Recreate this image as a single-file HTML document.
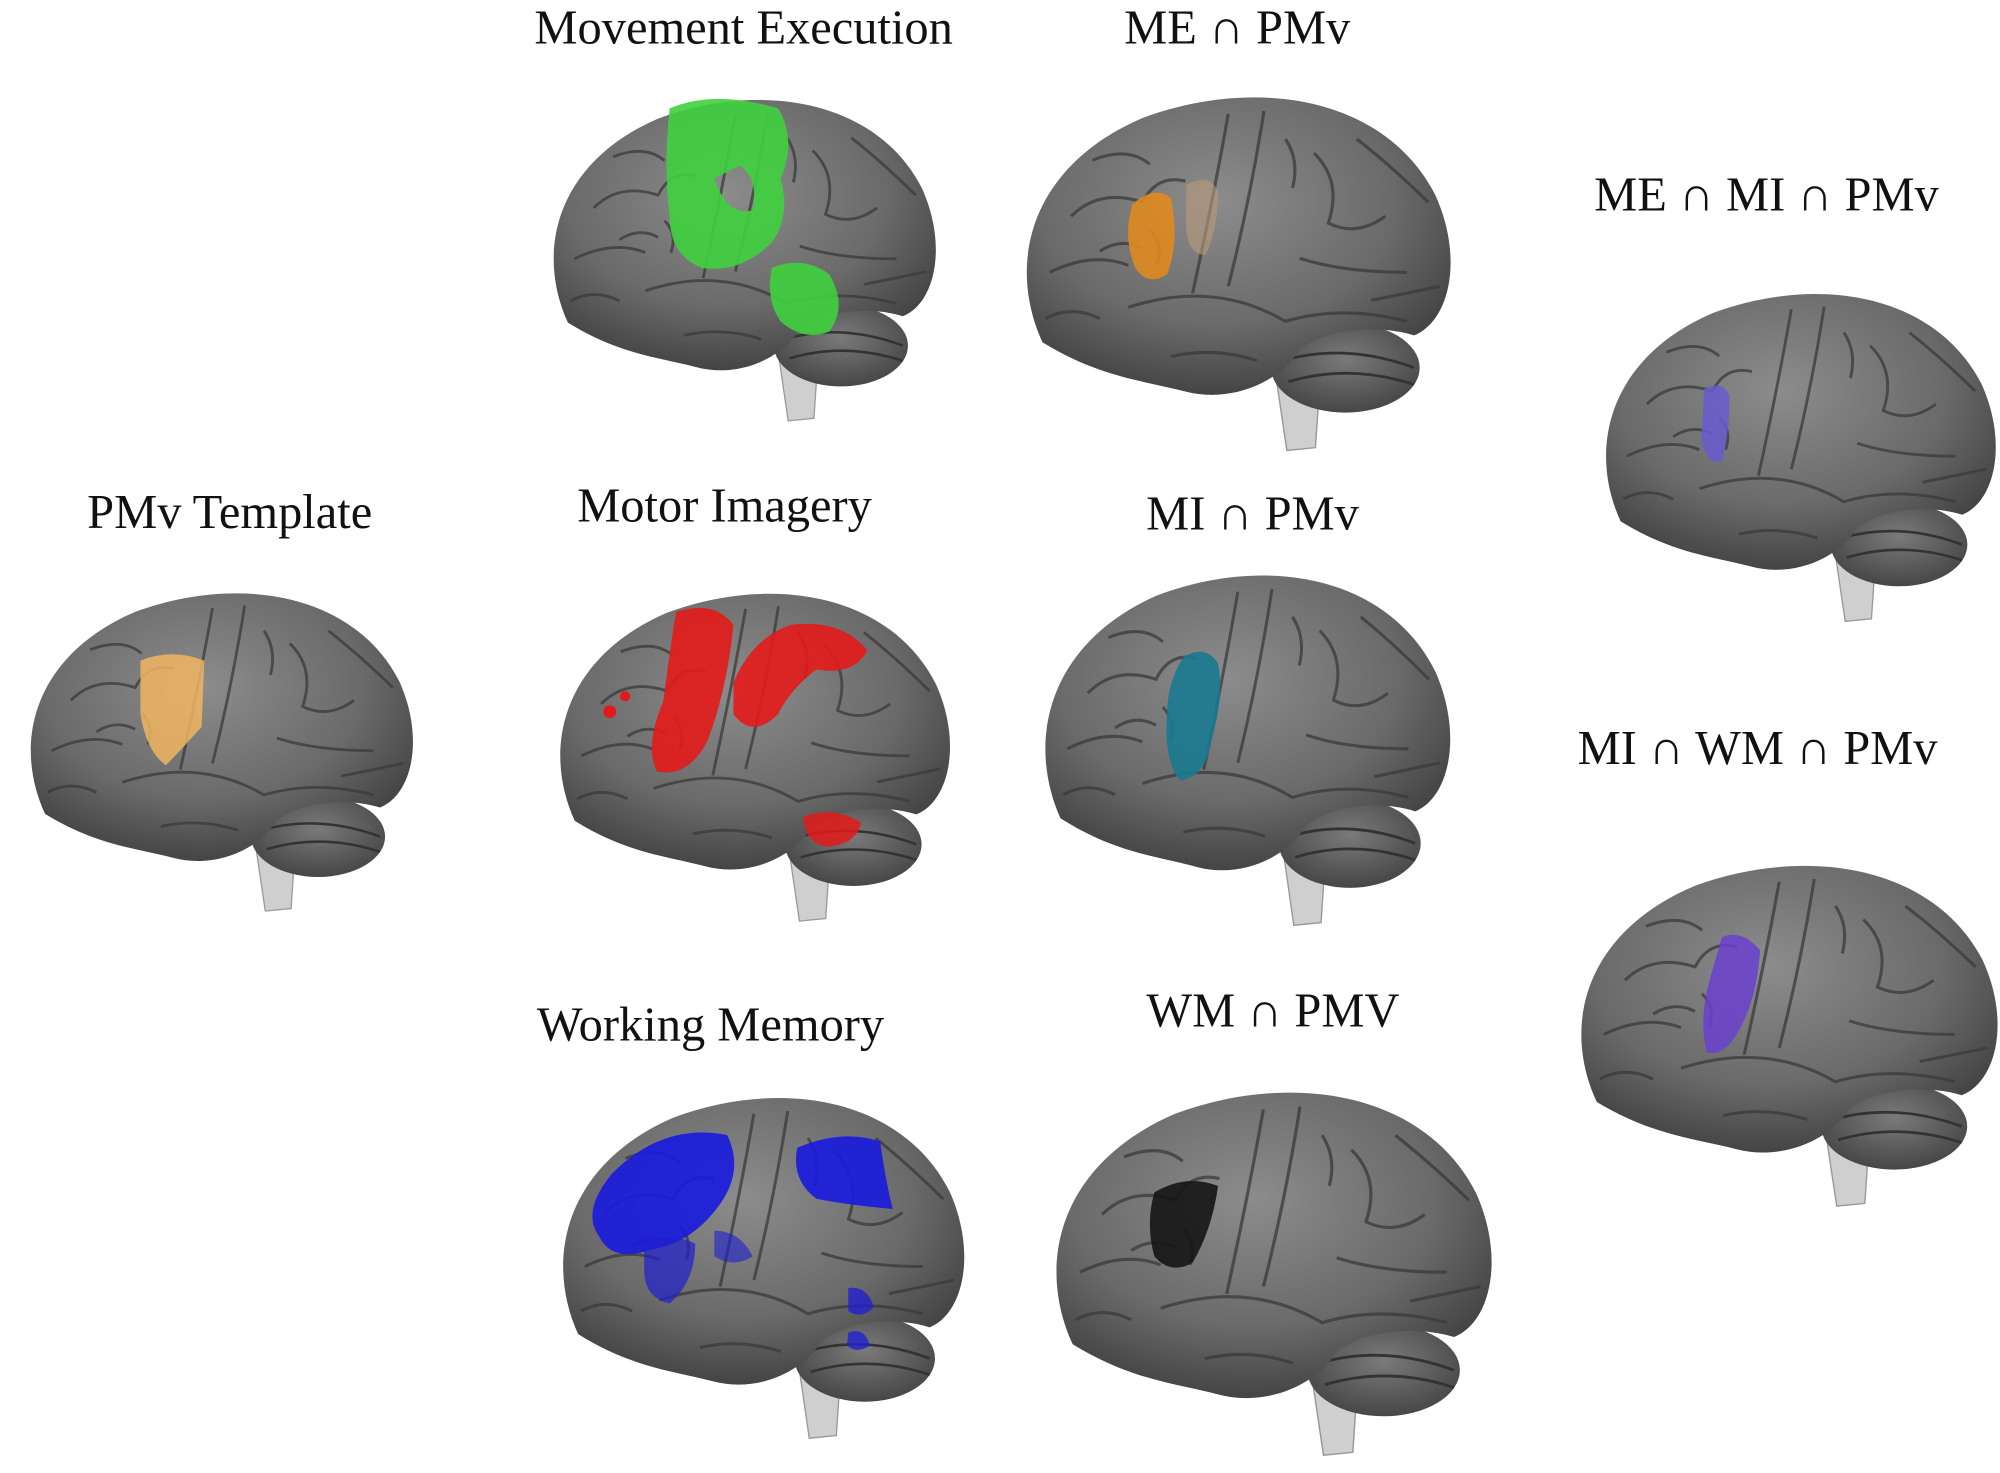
<!DOCTYPE html>
<html><head><meta charset="utf-8"><style>
html,body{margin:0;padding:0;background:#fff;}
svg{display:block;}
text{font-family:"Liberation Serif",serif;font-size:38px;fill:#111;text-anchor:middle;}
</style></head><body>
<svg width="2000" height="1473" viewBox="0 0 1568 1155" xmlns="http://www.w3.org/2000/svg">
<defs>
<radialGradient id="g" cx="0.45" cy="0.35" r="0.7">
<stop offset="0" stop-color="#8c8c8c"/><stop offset="0.6" stop-color="#6a6a6a"/><stop offset="1" stop-color="#3c3c3c"/>
</radialGradient>
<radialGradient id="cb" cx="0.5" cy="0.4" r="0.7">
<stop offset="0" stop-color="#7a7a7a"/><stop offset="1" stop-color="#3e3e3e"/>
</radialGradient>
<g id="brain">
<path d="M182,200 L215,200 L211,260 L191,262 Z" fill="#cfcfcf" stroke="#999" stroke-width="1"/>
<ellipse cx="232" cy="203" rx="52" ry="32" fill="url(#cb)"/>
<path d="M188,198 Q232,185 280,203" stroke="#333" stroke-width="2" fill="none"/>
<path d="M192,213 Q235,200 280,215" stroke="#333" stroke-width="2" fill="none"/>
<path d="M20,185 C-5,130 10,60 90,25 C170,-5 260,10 295,80 C315,125 305,170 280,180 C255,172 220,175 200,190 C185,215 150,228 120,220 C90,212 60,210 20,185 Z" fill="url(#g)"/>
<g stroke="#3a3a3a" stroke-width="2.2" fill="none" opacity="0.75">
<path d="M80,160 Q140,140 190,170 Q230,158 275,170"/>
<path d="M150,22 Q140,80 125,150"/>
<path d="M175,20 Q165,85 150,145"/>
<path d="M40,95 Q60,75 90,85 Q100,65 120,70"/>
<path d="M25,135 Q55,120 80,130"/>
<path d="M210,50 Q230,70 220,100 Q240,110 260,95"/>
<path d="M200,125 Q230,135 275,135"/>
<path d="M55,55 Q80,45 95,58"/>
<path d="M240,40 Q265,60 290,85"/>
<path d="M110,195 Q140,188 170,198"/>
<path d="M22,168 Q40,158 60,168"/>
<path d="M95,105 Q105,115 100,130"/>
<path d="M250,155 Q275,150 298,145"/>
<path d="M190,40 Q200,55 195,75"/>
<path d="M60,120 Q75,110 90,118"/>
</g>
</g>
</defs>

<text x="583" y="34">Movement Execution</text>
<text x="970" y="34">ME ∩ PMv</text>
<text x="1385" y="165">ME ∩ MI ∩ PMv</text>
<text x="180" y="414">PMv Template</text>
<text x="568" y="409">Motor Imagery</text>
<text x="982" y="415">MI ∩ PMv</text>
<text x="1378" y="599">MI ∩ WM ∩ PMv</text>
<text x="557" y="816">Working Memory</text>
<text x="998" y="805">WM ∩ PMV</text>

<use href="#brain" transform="translate(425,68) scale(1.01,1)"/>
<path d="M525,85 Q560,70 610,85 Q625,110 612,140 Q620,170 605,190 Q580,215 550,210 Q525,200 525,170 Q520,130 525,85 Z M560,140 Q570,170 590,165 Q595,140 580,130 Z" fill="#3fd23f" fill-rule="evenodd" opacity="0.9"/>
<path d="M605,210 Q630,200 650,215 Q665,240 650,260 Q630,268 612,252 Q600,235 605,210 Z" fill="#3fd23f" opacity="0.9"/>
<use href="#brain" transform="translate(795,65) scale(1.12,1.1)"/>
<path d="M888,160 Q905,145 918,155 Q925,190 915,215 Q900,225 890,210 Q880,185 888,160 Z" fill="#e08a20" opacity="0.9"/>
<path d="M930,145 Q948,135 955,150 Q955,180 945,200 Q932,200 930,180 Z" fill="#b99a7a" opacity="0.6"/>
<use href="#brain" transform="translate(1250,220) scale(1.03,1.02)"/>
<path d="M1336,305 Q1350,298 1356,310 Q1356,340 1350,362 Q1338,365 1334,345 Z" fill="#6a5ad0" opacity="0.85"/>
<use href="#brain" transform="translate(15,455) scale(1.01,0.99)"/>
<path d="M110,518 Q135,508 160,518 L158,570 Q140,590 130,600 Q115,590 110,560 Z" fill="#f0b560" opacity="0.85"/>
<use href="#brain" transform="translate(430,455) scale(1.03,1.02)"/>
<path d="M530,480 Q560,470 575,490 Q570,540 555,580 Q540,610 515,605 Q505,585 520,550 Q525,510 530,480 Z" fill="#e41a1a" opacity="0.9"/>
<path d="M575,535 Q590,500 620,490 Q660,485 680,510 Q670,530 640,525 Q620,540 610,560 Q590,580 575,560 Z" fill="#e41a1a" opacity="0.9"/>
<path d="M630,640 Q655,632 675,645 Q672,662 648,664 Q630,660 630,640 Z" fill="#e41a1a" opacity="0.85"/>
<circle cx="478" cy="558" r="5" fill="#e41a1a"/><circle cx="490" cy="546" r="4" fill="#e41a1a"/>
<use href="#brain" transform="translate(810,440) scale(1.07,1.09)"/>
<path d="M928,515 Q945,505 955,520 Q960,545 950,580 Q945,610 925,612 Q912,595 915,560 Q915,535 928,515 Z" fill="#1a7a90" opacity="0.9"/>
<use href="#brain" transform="translate(1230,668) scale(1.1,1.06)"/>
<path d="M1350,735 Q1365,728 1380,745 Q1378,780 1365,805 Q1352,830 1338,825 Q1332,800 1340,770 Z" fill="#6a40d0" opacity="0.85"/>
<use href="#brain" transform="translate(432,850) scale(1.06,1.06)"/>
<path d="M480,920 Q520,880 570,890 Q585,920 560,950 Q540,975 510,980 Q480,990 470,970 Q455,950 480,920 Z" fill="#1a1ae0" opacity="0.9"/>
<path d="M625,900 Q660,885 690,895 Q695,930 700,948 Q665,945 640,940 Q620,925 625,900 Z" fill="#1a1ae0" opacity="0.9"/>
<path d="M505,975 Q525,965 545,975 Q545,1005 525,1022 Q505,1018 505,995 Z" fill="#2020d0" opacity="0.7"/>
<path d="M560,965 Q580,965 590,985 Q575,995 560,985 Z" fill="#2020d0" opacity="0.6"/>
<path d="M665,1010 Q680,1008 685,1025 Q675,1035 665,1028 Z M665,1045 Q678,1040 682,1055 Q672,1062 664,1055 Z" fill="#2020d0" opacity="0.8"/>
<use href="#brain" transform="translate(818,845) scale(1.15,1.13)"/>
<path d="M905,935 Q930,920 955,930 Q950,965 935,990 Q918,1000 905,985 Q898,960 905,935 Z" fill="#151515" opacity="0.9"/>
</svg>
</body></html>
